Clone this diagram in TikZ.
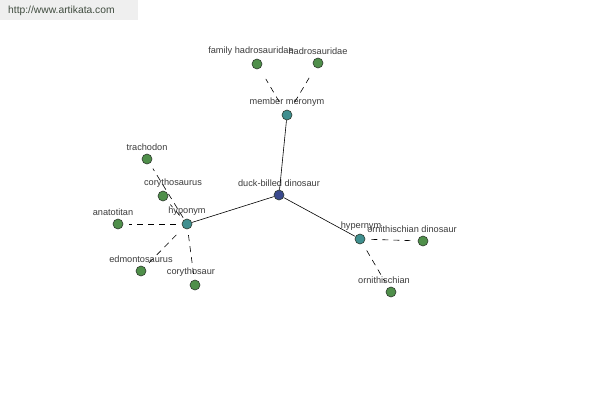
\documentclass[tikz,border=0pt]{standalone}
\usepackage{fontspec}
\setmainfont{Liberation Sans}
\usetikzlibrary{positioning}
\definecolor{Root}{HTML}{3A4A8E}
\definecolor{Rel}{HTML}{3F8F8F}
\definecolor{Leaf}{HTML}{4F8F4A}
\definecolor{Ring}{HTML}{2E3A2E}
\definecolor{Label}{HTML}{3C3C3C}
\definecolor{Stamp}{HTML}{EFEFEF}
\tikzset{dot/.style={circle,draw=Ring,line width=0.6pt,minimum size=10pt,inner sep=0pt},
  rootdot/.style={dot,fill=Root},
  reldot/.style={dot,fill=Rel},
  leafdot/.style={dot,fill=Leaf},
  lbl/.style={font=\fontsize{9.2}{10}\selectfont,text=Label,inner sep=0pt},
  link/.style={draw=black,line width=0.6pt},
  dashlink/.style={link,dashed,dash pattern=on 6pt off 5pt,shorten <=6pt,shorten >=6pt}}

\begin{document}
\begin{tikzpicture}[x=1pt,y=-1pt]
    \useasboundingbox[fill=white] (0,0) rectangle (600,400);
    \fill[Stamp] (0,0) rectangle (138,20);
    \node[anchor=west,font=\fontsize{10.3}{11}\selectfont,text=Label!80!Leaf,inner sep=0pt] (site) at (8,11) {http://www.artikata.com};
    % centre and relations
    \node[rootdot,label={[lbl,yshift=3pt]above:duck-billed dinosaur}] (duck) at (279,195) {};
    \node[reldot,label={[lbl,yshift=3pt]above:member meronym}] (mero) at (287,115) {};
    \node[reldot,label={[lbl,yshift=3pt]above:hyponym}] (hypo) at (187,224) {};
    \node[reldot,label={[lbl,yshift=3pt,xshift=1pt]above:hypernym}] (hyper) at (360,239) {};
    % leaves
    \node[leafdot,label={[lbl,yshift=3pt,xshift=-6pt]above:family hadrosauridae}] (famhad) at (257,64) {};
    \node[leafdot,label={[lbl,yshift=3pt]above:hadrosauridae}] (had) at (318,63) {};
    \node[leafdot,label={[lbl,yshift=3pt]above:trachodon}] (trach) at (147,159) {};
    \node[leafdot,label={[lbl,yshift=3pt,xshift=10pt]above:corythosaurus}] (corus) at (163,196) {};
    \node[leafdot,label={[lbl,yshift=3pt,xshift=-5pt]above:anatotitan}] (anato) at (118,224) {};
    \node[leafdot,label={[lbl,yshift=3pt]above:edmontosaurus}] (edmo) at (141,271) {};
    \node[leafdot,label={[lbl,yshift=3pt,xshift=-4pt]above:corythosaur}] (cory) at (195,285) {};
    \node[leafdot,label={[lbl,yshift=3pt,xshift=-11pt]above:ornithischian dinosaur}] (orndin) at (423,241) {};
    \node[leafdot,label={[lbl,yshift=3pt,xshift=-7pt]above:ornithischian}] (orn) at (391,292) {};
    \draw[link] (duck)--(mero);
    \draw[link] (duck)--(hypo);
    \draw[link] (duck)--(hyper);
    \draw[dashlink,shorten <=10pt,shorten >=12pt] (mero)--(famhad);
    \draw[dashlink,shorten <=10pt,shorten >=12pt] (mero)--(had);
    \draw[dashlink,shorten <=2pt] (hypo)--(trach);
    \draw[dashlink] (hypo)--(corus);
    \draw[dashlink] (hypo)--(anato);
    \draw[dashlink,shorten <=10pt] (hypo)--(edmo);
    \draw[dashlink] (hypo)--(cory);
    \draw[dashlink] (hyper)--(orndin);
    \draw[dashlink,shorten <=8pt] (hyper)--(orn);
  \end{tikzpicture}
\end{document}
